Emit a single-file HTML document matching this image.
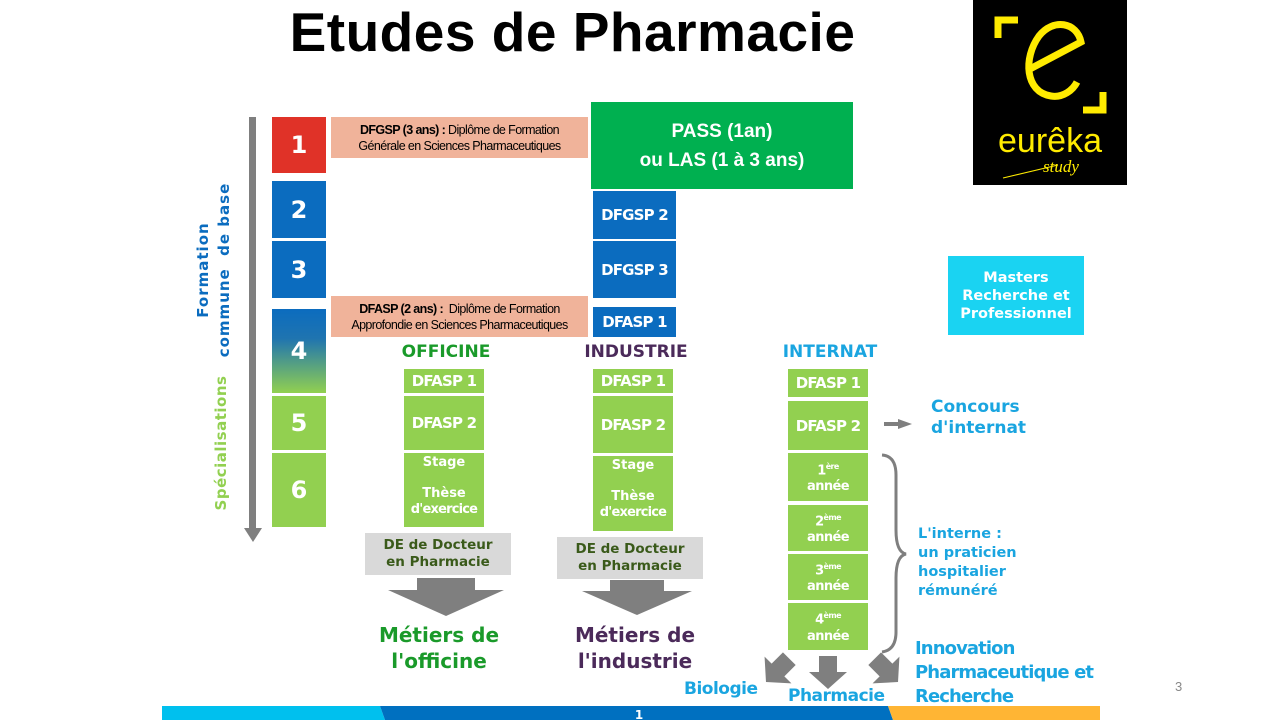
<!DOCTYPE html>
<html><head><meta charset="utf-8"><style>
body{margin:0;width:1280px;height:720px;position:relative;overflow:hidden;background:#fff;font-family:"DejaVu Sans","Liberation Sans",sans-serif;}
.a{position:absolute;box-sizing:border-box;display:flex;align-items:center;justify-content:center;text-align:center;color:#fff;font-weight:bold;}
.g{background:#92d050;}
.b{background:#0b6cbf;}
.s{background:#f0b39a;color:#000;font-family:"Liberation Sans",sans-serif;font-weight:normal;font-size:12.5px;letter-spacing:-0.6px;line-height:16px;}
.n{font-size:24px;}
.t{font-size:15px;letter-spacing:-0.8px;}
.y{font-size:13px;letter-spacing:-0.6px;line-height:16px;}
.y sup{font-size:8px;}
.h{position:absolute;font-weight:bold;font-size:17px;}
.de{background:#d9d9d9;color:#3a5a1a;font-size:13.5px;line-height:17px;}
.cy{color:#1aa5e0;font-weight:bold;position:absolute;}
</style></head><body>
<div style="position:absolute;left:0;width:1145px;top:0px;text-align:center;font-family:'Liberation Sans',sans-serif;font-weight:bold;font-size:55px;color:#000;letter-spacing:0.5px">Etudes de Pharmacie</div>
<!-- logo -->
<div style="position:absolute;left:973px;top:0;width:154px;height:185px;background:#000"></div>
<svg style="position:absolute;left:973px;top:0" width="154" height="185">
<path d="M25 38 V20 H45" stroke="#ffeb00" stroke-width="7" fill="none"/>
<path d="M130 92 V110 H110" stroke="#ffeb00" stroke-width="7" fill="none"/>
<path d="M55 70 L108 42 C104 22 80 18 66 36 C50 58 52 92 78 96 C90 98 100 90 104 82" stroke="#ffeb00" stroke-width="7" fill="none"/>
<text x="77" y="152" font-family="Liberation Sans,sans-serif" font-size="34" fill="#ffeb00" text-anchor="middle">eurêka</text>
<text x="88" y="172" font-family="Liberation Serif,serif" font-style="italic" font-size="17" fill="#ffeb00" text-anchor="middle">study</text>
<line x1="30" y1="178" x2="85" y2="165" stroke="#ffeb00" stroke-width="1"/>
</svg>
<!-- left gray arrow -->
<div style="position:absolute;left:249px;top:117px;width:7px;height:415px;background:#7f7f7f"></div>
<svg style="position:absolute;left:244px;top:528px" width="18" height="16"><polygon points="0,0 18,0 9,14" fill="#7f7f7f"/></svg>
<div style="position:absolute;left:214px;top:270px;transform:translate(-50%,-50%) rotate(-90deg);white-space:nowrap;color:#0b6cbf;font-weight:bold;font-size:15px;line-height:21px;text-align:center;letter-spacing:1px">Formation<br>commune&nbsp; de base</div>
<div style="position:absolute;left:221px;top:443px;transform:translate(-50%,-50%) rotate(-90deg);white-space:nowrap;color:#92d050;font-weight:bold;font-size:15px;letter-spacing:0.5px">Spécialisations</div>
<div class="a n" style="left:272px;top:117px;width:54px;height:56px;background:#e03228">1</div>
<div class="a n b" style="left:272px;top:181px;width:54px;height:57px">2</div>
<div class="a n b" style="left:272px;top:241px;width:54px;height:57px">3</div>
<div class="a n" style="left:272px;top:309px;width:54px;height:84px;background:linear-gradient(#0b6cbf 0%,#1f74b0 35%,#92d050 100%)">4</div>
<div class="a n g" style="left:272px;top:396px;width:54px;height:54px">5</div>
<div class="a n g" style="left:272px;top:453px;width:54px;height:74px">6</div>
<div class="a s" style="left:331px;top:117px;width:257px;height:41px"><div><b>DFGSP (3 ans) :</b> Diplôme de Formation<br>Générale en Sciences Pharmaceutiques</div></div>
<div class="a s" style="left:331px;top:296px;width:257px;height:41px"><div><b>DFASP (2 ans) :</b>&nbsp; Diplôme de Formation<br>Approfondie en Sciences Pharmaceutiques</div></div>
<div class="a" style="left:591px;top:102px;width:262px;height:87px;background:#00b050;font-family:'Liberation Sans',sans-serif;font-size:19px;line-height:29px">PASS (1an)<br>ou LAS (1 à 3 ans)</div>
<div class="a t b" style="left:593px;top:191px;width:83px;height:48px">DFGSP 2</div>
<div class="a t b" style="left:593px;top:241px;width:83px;height:57px">DFGSP 3</div>
<div class="a t b" style="left:593px;top:307px;width:83px;height:30px">DFASP 1</div>
<div class="h" style="left:356px;width:180px;top:342px;text-align:center;color:#1a9a2a">OFFICINE</div>
<div class="h" style="left:546px;width:180px;top:342px;text-align:center;color:#4b2a5a">INDUSTRIE</div>
<div class="h" style="left:740px;width:180px;top:342px;text-align:center;color:#1aa5e0">INTERNAT</div>
<!-- officine -->
<div class="a t g" style="left:404px;top:369px;width:80px;height:24px">DFASP 1</div>
<div class="a t g" style="left:404px;top:396px;width:80px;height:54px">DFASP 2</div>
<div class="a g" style="left:404px;top:453px;width:80px;height:74px;font-size:13px;line-height:16px;display:block;padding-top:2px">Stage<div style="height:15px"></div>Thèse<br><span style="letter-spacing:-0.8px">d'exercice</span></div>
<div class="a de" style="left:365px;top:533px;width:146px;height:42px">DE de Docteur<br>en Pharmacie</div>
<svg style="position:absolute;left:388px;top:578px" width="116" height="38"><polygon points="29,0 87,0 87,12 116,12 58,38 0,12 29,12" fill="#7f7f7f"/></svg>
<div style="position:absolute;left:346px;width:186px;top:622px;text-align:center;color:#1a9a2a;font-weight:bold;font-size:20px;line-height:26px">Métiers de<br>l'officine</div>
<!-- industrie -->
<div class="a t g" style="left:593px;top:369px;width:80px;height:24px">DFASP 1</div>
<div class="a t g" style="left:593px;top:396px;width:80px;height:57px">DFASP 2</div>
<div class="a g" style="left:593px;top:456px;width:80px;height:75px;font-size:13px;line-height:16px;display:block;padding-top:2px">Stage<div style="height:15px"></div>Thèse<br><span style="letter-spacing:-0.8px">d'exercice</span></div>
<div class="a de" style="left:557px;top:537px;width:146px;height:42px">DE de Docteur<br>en Pharmacie</div>
<svg style="position:absolute;left:582px;top:580px" width="110" height="35"><polygon points="28,0 82,0 82,11 110,11 55,35 0,11 28,11" fill="#7f7f7f"/></svg>
<div style="position:absolute;left:540px;width:190px;top:622px;text-align:center;color:#4b2a5a;font-weight:bold;font-size:20px;line-height:26px">Métiers de<br>l'industrie</div>
<!-- internat -->
<div class="a t g" style="left:788px;top:369px;width:80px;height:28px">DFASP 1</div>
<div class="a t g" style="left:788px;top:401px;width:80px;height:49px">DFASP 2</div>
<div class="a y g" style="left:788px;top:453px;width:80px;height:48px"><div>1<sup>ère</sup><br>année</div></div>
<div class="a y g" style="left:788px;top:505px;width:80px;height:46px"><div>2<sup>ème</sup><br>année</div></div>
<div class="a y g" style="left:788px;top:554px;width:80px;height:46px"><div>3<sup>ème</sup><br>année</div></div>
<div class="a y g" style="left:788px;top:603px;width:80px;height:47px"><div>4<sup>ème</sup><br>année</div></div>
<svg style="position:absolute;left:740px;top:400px" width="200" height="300">
<line x1="144" y1="24" x2="160" y2="24" stroke="#7f7f7f" stroke-width="4"/>
<polygon points="158,19 172,24 158,29" fill="#7f7f7f"/>
<path d="M142 55 Q156 56 156 75 L156 130 Q156 152 166 154 Q156 156 156 178 L156 232 Q156 250 142 252" stroke="#7f7f7f" stroke-width="3" fill="none"/>
<g transform="translate(38,270) rotate(45)"><polygon points="-9,-16 9,-16 9,0 19,0 0,17 -19,0 -9,0" fill="#7f7f7f"/></g>
<g transform="translate(88,272)"><polygon points="-9,-16 9,-16 9,0 19,0 0,17 -19,0 -9,0" fill="#7f7f7f"/></g>
<g transform="translate(146,270) rotate(-45)"><polygon points="-9,-16 9,-16 9,0 19,0 0,17 -19,0 -9,0" fill="#7f7f7f"/></g>
</svg>
<div class="cy" style="left:931px;top:397px;font-size:17px;line-height:21px">Concours<br>d'internat</div>
<div class="cy" style="left:918px;top:525px;font-size:14.5px;line-height:19px">L'interne :<br>un praticien<br>hospitalier<br>rémunéré</div>
<div class="cy" style="left:915px;top:637px;font-size:18px;line-height:24px;letter-spacing:-0.9px">Innovation<br>Pharmaceutique et<br>Recherche</div>
<div class="cy" style="left:684px;top:679px;font-size:17px;letter-spacing:-0.5px">Biologie</div>
<div class="cy" style="left:788px;top:686px;font-size:17px;letter-spacing:-0.5px">Pharmacie</div>
<div class="a" style="left:948px;top:256px;width:136px;height:79px;background:#1ad3f2;font-size:14.5px;line-height:18px">Masters<br>Recherche et<br>Professionnel</div>
<div style="position:absolute;left:1175px;top:679px;font-family:'Liberation Sans',sans-serif;font-size:13px;color:#888">3</div>
<!-- bottom bar -->
<svg style="position:absolute;left:0;top:706px" width="1280" height="14">
<polygon points="162,0 380,0 385,14 162,14" fill="#00c0ee"/>
<polygon points="380,0 888,0 893,14 385,14" fill="#0070c0"/>
<polygon points="888,0 1100,0 1100,14 893,14" fill="#ffb534"/>
<text x="639" y="13" fill="#fff" font-weight="bold" font-size="12" font-family="DejaVu Sans,sans-serif" text-anchor="middle">1</text>
</svg>
</body></html>
